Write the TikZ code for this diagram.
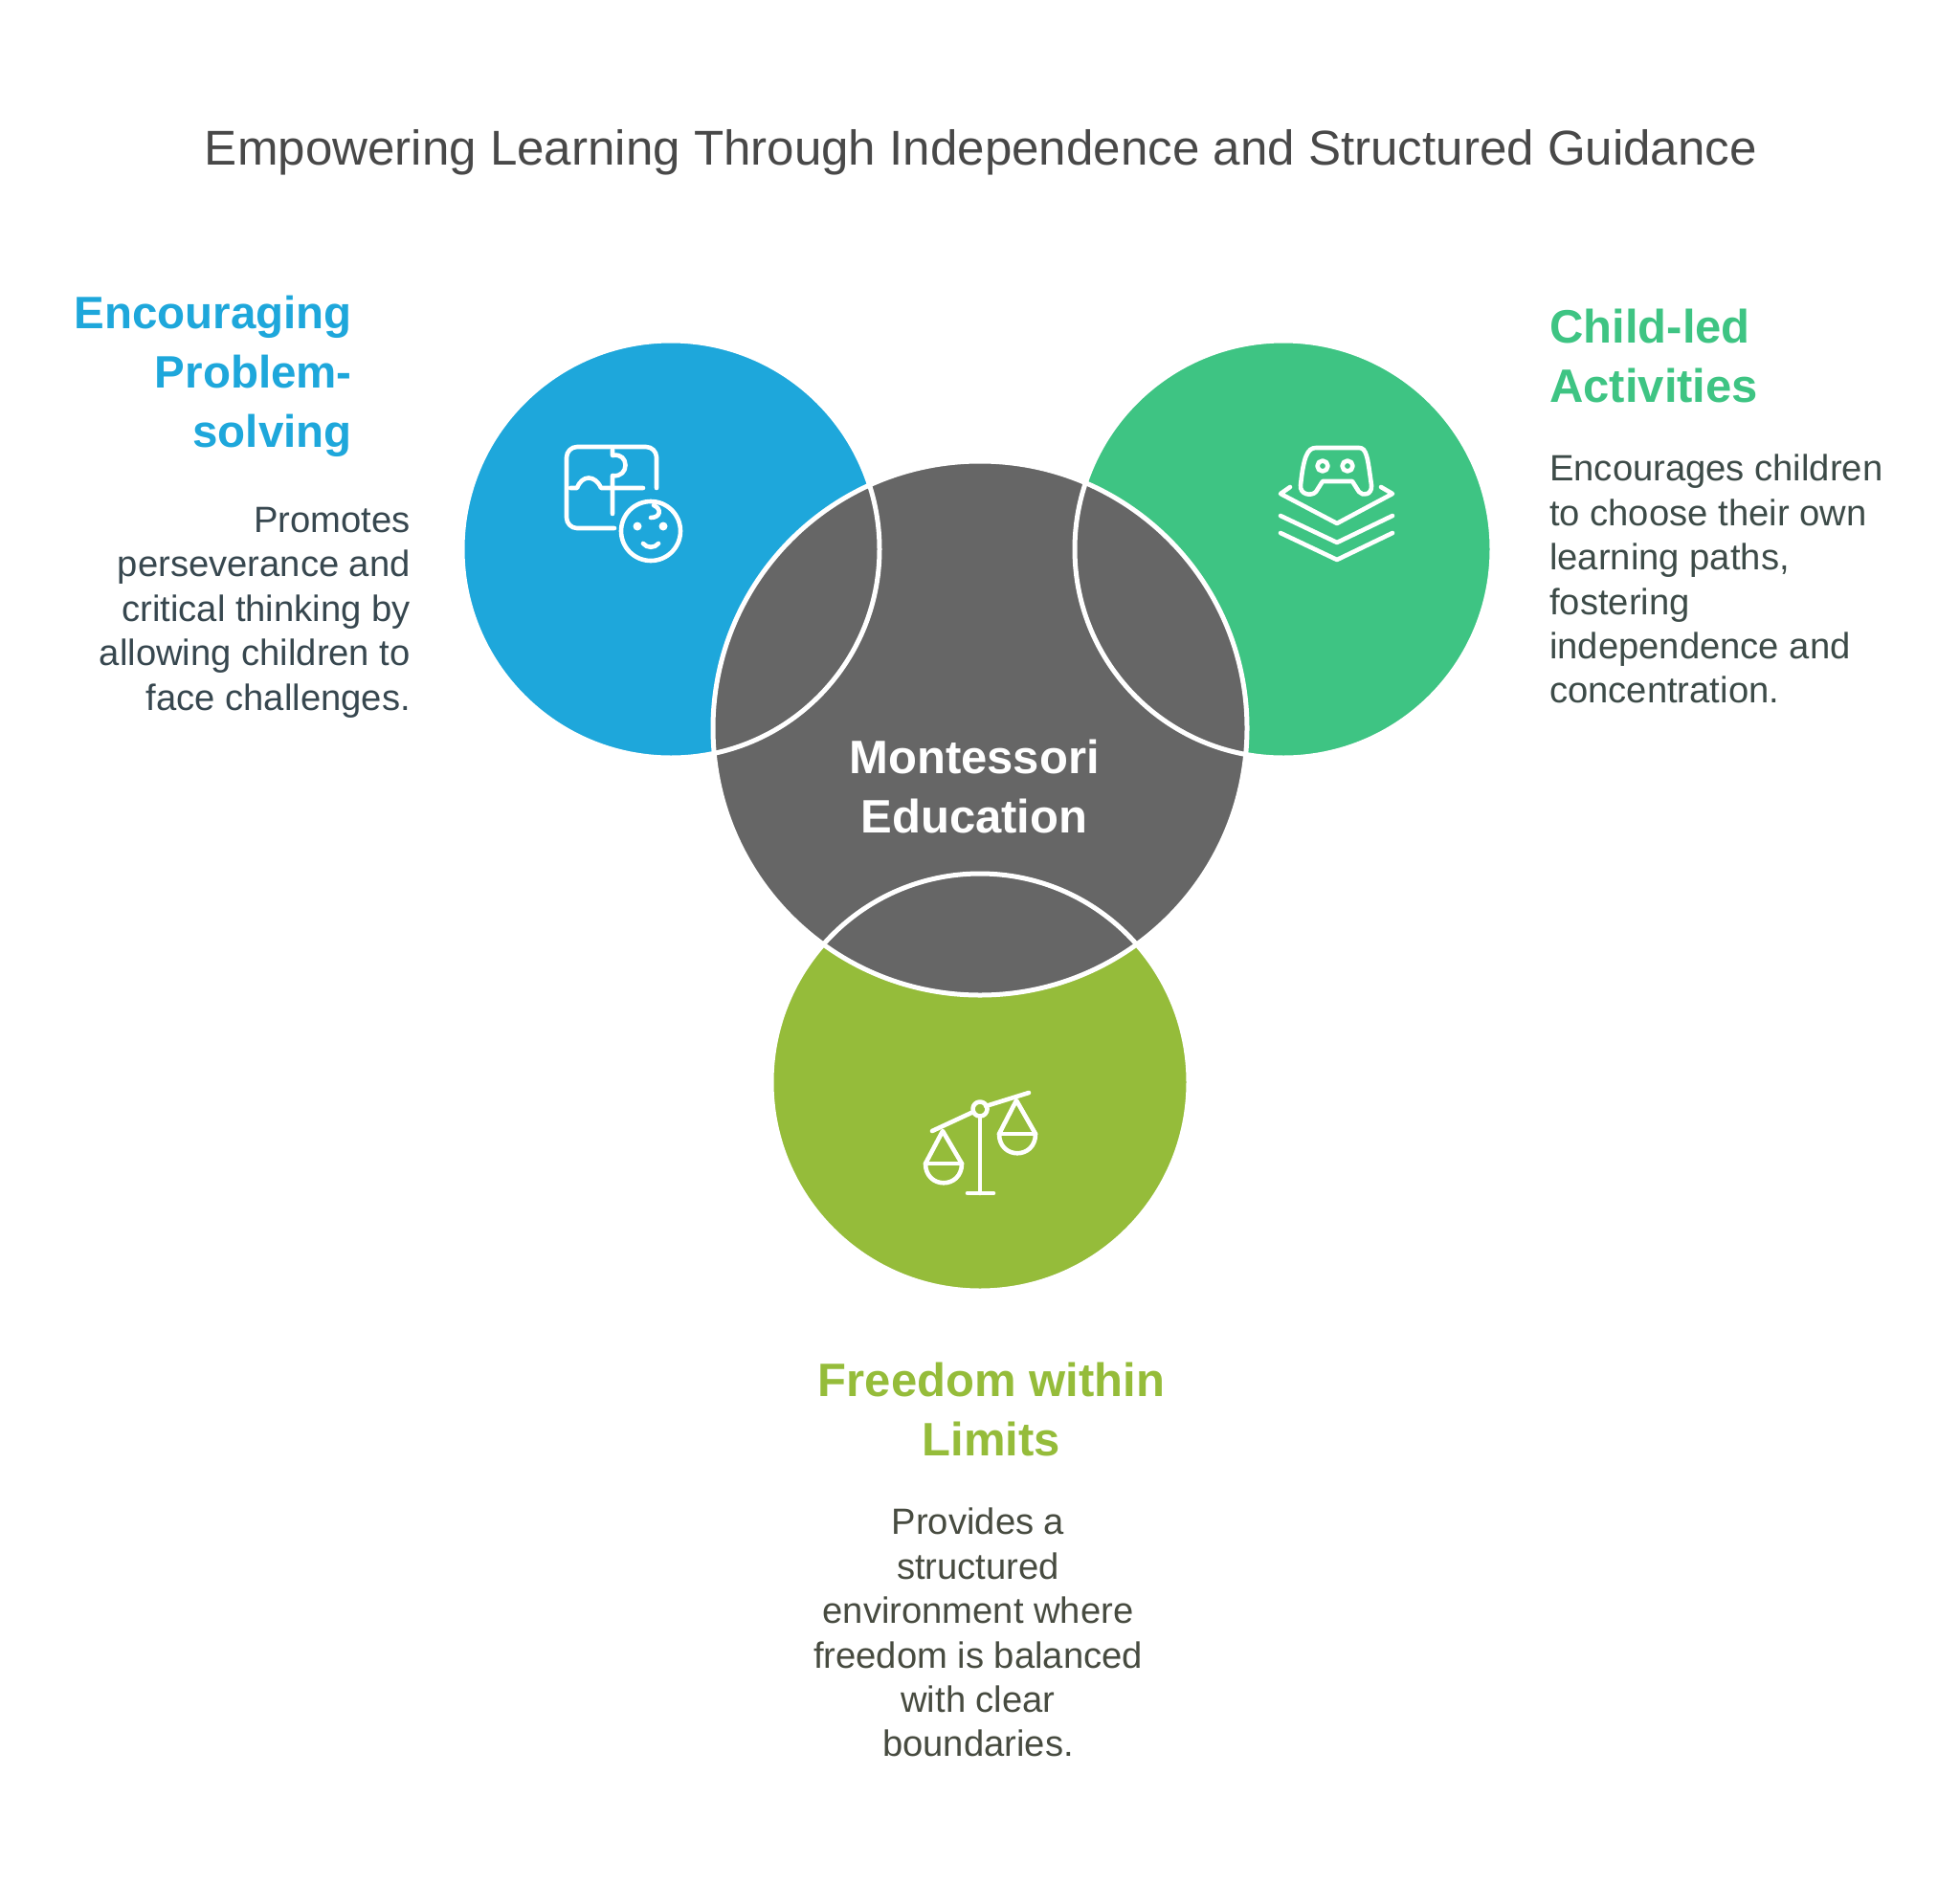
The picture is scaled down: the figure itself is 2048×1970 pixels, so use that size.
\documentclass[tikz,border=0pt]{standalone}
\usepackage{fontspec}
\setmainfont{Liberation Sans}
\usepackage{tikz}

\definecolor{skyblue}{HTML}{1EA7DB}
\definecolor{mint}{HTML}{3EC483}
\definecolor{olive}{HTML}{95BC3A}
\definecolor{slate}{HTML}{666666}
\definecolor{titlegray}{HTML}{484848}
\definecolor{bodyleft}{HTML}{37474F}
\definecolor{bodyright}{HTML}{3D4B48}
\definecolor{bodylow}{HTML}{474B40}

\begin{document}
\begin{tikzpicture}[x=1pt, y=-1pt,
    disc/.style = {circle, minimum size=436pt, inner sep=0pt},
    ring/.style = {draw=white, line width=5pt},
    glyph/.style = {draw=white, line width=4.6pt, line cap=round, line join=round},
    heading/.style = {font=\fontsize{49}{62}\selectfont\bfseries, inner sep=0pt},
    body/.style = {font=\fontsize{38.2}{46.4}\selectfont, inner sep=0pt}]
    \useasboundingbox (0,0) rectangle (2048,1970);
    \node[font=\fontsize{51.1}{60}\selectfont, text=titlegray, inner sep=0pt] (title) at (1025,159) {Empowering Learning Through Independence and Structured Guidance};

    \node[disc, fill=skyblue] (puzzle) at (701,574) {};
    \node[disc, fill=mint] (game) at (1341,574) {};
    \node[disc, fill=olive] (scale) at (1024,1131) {};
    \node[disc, minimum size=558pt, fill=slate, ring] (core) at (1024,761) {};
    \node[disc, ring] (puzzlering) at (puzzle) {};
    \node[disc, ring] (gamering) at (game) {};
    \node[disc, ring] (scalering) at (scale) {};

    \node[heading, text=white, align=center] (coretext) at (1018,822) {Montessori\\Education};

    \node[heading, font=\fontsize{47.5}{62}\selectfont\bfseries, text=skyblue, align=right, anchor=north east] (lefthead) at (368,309) {Encouraging\\Problem-\\solving};
    \node[body, text=bodyleft, align=right, anchor=north east] (leftbody) at (429,530) {Promotes\\perseverance and\\critical thinking by\\allowing children to\\face challenges.};
    \node[heading, text=mint, align=left, anchor=north west] (righthead) at (1619,323) {Child-led\\Activities};
    \node[body, text=bodyright, align=left, anchor=north west] (rightbody) at (1619,475) {Encourages children\\to choose their own\\learning paths,\\fostering\\independence and\\concentration.};
    \node[heading, text=olive, align=center, anchor=north] (lowhead) at (1036,1424) {Freedom within\\Limits};
    \node[body, text=bodylow, align=center, anchor=north] (lowbody) at (1022,1576) {Provides a\\structured\\environment where\\freedom is balanced\\with clear\\boundaries.};

    % puzzle and face
    \draw[glyph, rounded corners=11pt] (686,510) -- (686,467) -- (592,467) -- (592,552) -- (642,552);
    \draw[glyph] (596,510) -- (603,510) .. controls (608,496) and (622,496) .. (628,510) -- (672,510);
    \draw[glyph] (640,470) -- (640,476) .. controls (658,472) and (658,500) .. (640,497) -- (640,537);
    \draw[glyph] (680,555) circle (31);
    \fill[white] (666,550) circle (4.5) (693,550) circle (4.5);
    \draw[glyph] (672,568) .. controls (676,573) and (684,573) .. (688,568);
    \draw[glyph] (683,528) .. controls (692,532) and (690,541) .. (680,541);

    % controller and layers
    \draw[glyph] (1375,468) -- (1420,468) .. controls (1428,468) and (1429,478) .. (1433,507) .. controls (1434,517) and (1424,519) .. (1420,514) -- (1413,503) -- (1382,503) -- (1375,514) .. controls (1370,519) and (1358,517) .. (1359,507) .. controls (1362,478) and (1366,468) .. (1375,468) -- cycle;
    \draw[glyph] (1382,487) circle (5.5) (1408,487) circle (5.5);
    \draw[glyph] (1348,509) -- (1338,516) -- (1397,547) -- (1455,516) -- (1443,509);
    \draw[glyph] (1338,539) -- (1397,567) -- (1455,539);
    \draw[glyph] (1338,557) -- (1397,585) -- (1455,557);

    % balance
    \draw[glyph] (974,1182) -- (1017,1162);
    \draw[glyph] (1030,1156) -- (1075,1142);
    \draw[glyph] (1024,1159) circle (7.5);
    \draw[glyph] (1024,1167) -- (1024,1247);
    \draw[glyph] (1011,1247) -- (1038,1247);
    \draw[glyph] (985,1182) -- (967,1216) .. controls (967,1243) and (1005,1243) .. (1005,1216) -- cycle;
    \draw[glyph] (967,1216) -- (1005,1216);
    \draw[glyph] (1062,1150) -- (1044,1185) .. controls (1044,1212) and (1082,1212) .. (1082,1185) -- cycle;
    \draw[glyph] (1044,1185) -- (1082,1185);
\end{tikzpicture}
\end{document}
